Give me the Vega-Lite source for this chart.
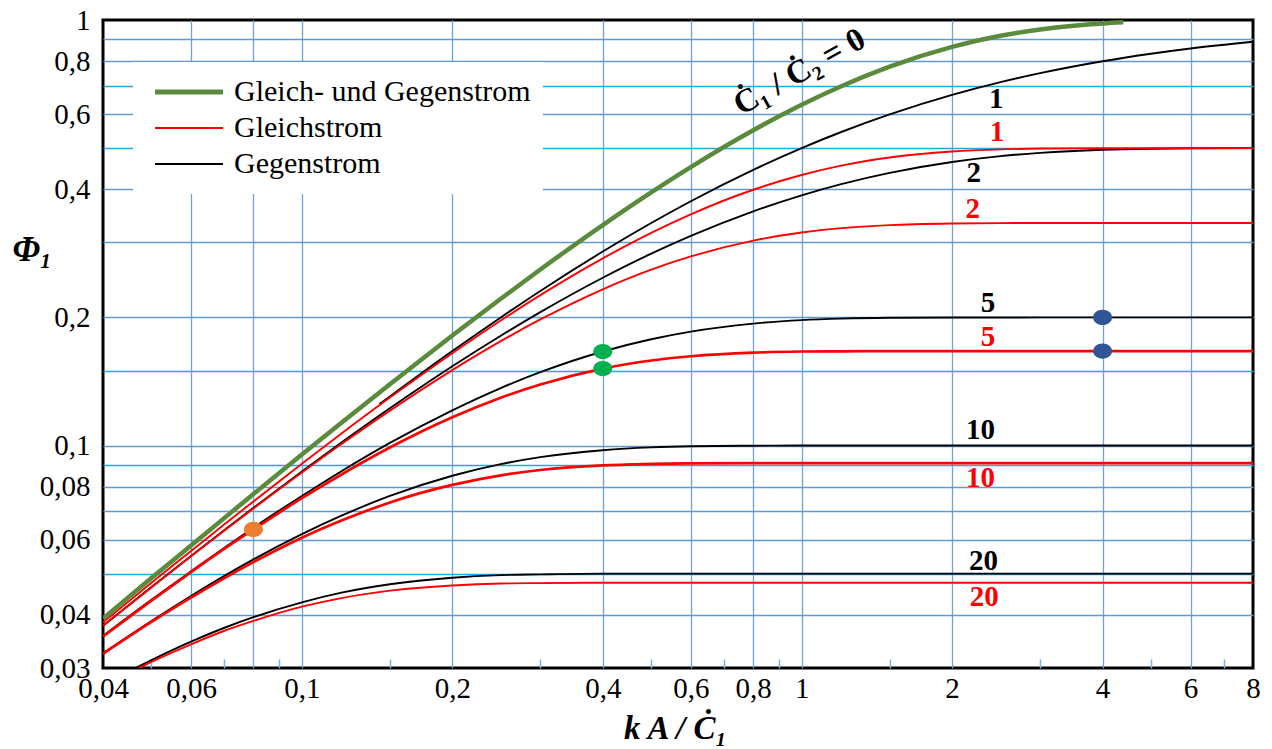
{
  "$schema": "https://vega.github.io/schema/vega-lite/v6.json",
  "width": 1150,
  "height": 648,
  "autosize": {"type": "none"},
  "padding": {"left": 103, "top": 20, "right": 19, "bottom": 81},
  "background": "white",
  "config": {
    "view": {"stroke": "black", "strokeWidth": 3},
    "font": "Liberation Serif",
    "axis": {
      "domain": false,
      "labelFont": "Liberation Serif",
      "labelColor": "black",
      "labelFontSize": 29,
      "titleFont": "Liberation Serif",
      "titleColor": "black",
      "titleFontWeight": "bold",
      "titleFontStyle": "italic"
    }
  },
  "datasets": {
    "kurven": [
      {"kA":0.143,"Phi":0.1251,"Art":"Gegenstrom","R":1},{"kA":0.15,"Phi":0.1304,"Art":"Gegenstrom","R":1},{"kA":0.2,"Phi":0.1667,"Art":"Gegenstrom","R":1},{"kA":0.25,"Phi":0.2,"Art":"Gegenstrom","R":1},{"kA":0.3,"Phi":0.2308,"Art":"Gegenstrom","R":1},{"kA":0.4,"Phi":0.2857,"Art":"Gegenstrom","R":1},{"kA":0.5,"Phi":0.3333,"Art":"Gegenstrom","R":1},{"kA":0.6,"Phi":0.375,"Art":"Gegenstrom","R":1},{"kA":0.8,"Phi":0.4444,"Art":"Gegenstrom","R":1},{"kA":1,"Phi":0.5,"Art":"Gegenstrom","R":1},{"kA":1.2,"Phi":0.5455,"Art":"Gegenstrom","R":1},{"kA":1.5,"Phi":0.6,"Art":"Gegenstrom","R":1},{"kA":2,"Phi":0.6667,"Art":"Gegenstrom","R":1},{"kA":2.5,"Phi":0.7143,"Art":"Gegenstrom","R":1},{"kA":3,"Phi":0.75,"Art":"Gegenstrom","R":1},{"kA":4,"Phi":0.8,"Art":"Gegenstrom","R":1},{"kA":5,"Phi":0.8333,"Art":"Gegenstrom","R":1},{"kA":6,"Phi":0.8571,"Art":"Gegenstrom","R":1},{"kA":8,"Phi":0.8889,"Art":"Gegenstrom","R":1},

      {"kA":0.04,"Phi":0.0377,"Art":"Gegenstrom","R":2},{"kA":0.05,"Phi":0.0465,"Art":"Gegenstrom","R":2},{"kA":0.06,"Phi":0.055,"Art":"Gegenstrom","R":2},{"kA":0.07,"Phi":0.0633,"Art":"Gegenstrom","R":2},{"kA":0.08,"Phi":0.0714,"Art":"Gegenstrom","R":2},{"kA":0.1,"Phi":0.0869,"Art":"Gegenstrom","R":2},{"kA":0.12,"Phi":0.1016,"Art":"Gegenstrom","R":2},{"kA":0.15,"Phi":0.1223,"Art":"Gegenstrom","R":2},{"kA":0.2,"Phi":0.1535,"Art":"Gegenstrom","R":2},{"kA":0.25,"Phi":0.1811,"Art":"Gegenstrom","R":2},{"kA":0.3,"Phi":0.2058,"Art":"Gegenstrom","R":2},{"kA":0.4,"Phi":0.2479,"Art":"Gegenstrom","R":2},{"kA":0.5,"Phi":0.2824,"Art":"Gegenstrom","R":2},{"kA":0.6,"Phi":0.3109,"Art":"Gegenstrom","R":2},{"kA":0.8,"Phi":0.3551,"Art":"Gegenstrom","R":2},{"kA":1,"Phi":0.3873,"Art":"Gegenstrom","R":2},{"kA":1.2,"Phi":0.4114,"Art":"Gegenstrom","R":2},{"kA":1.5,"Phi":0.4372,"Art":"Gegenstrom","R":2},{"kA":2,"Phi":0.4637,"Art":"Gegenstrom","R":2},{"kA":2.5,"Phi":0.4786,"Art":"Gegenstrom","R":2},{"kA":3,"Phi":0.4872,"Art":"Gegenstrom","R":2},{"kA":4,"Phi":0.4954,"Art":"Gegenstrom","R":2},{"kA":5,"Phi":0.4983,"Art":"Gegenstrom","R":2},{"kA":6,"Phi":0.4994,"Art":"Gegenstrom","R":2},{"kA":8,"Phi":0.4999,"Art":"Gegenstrom","R":2},

      {"kA":0.04,"Phi":0.0357,"Art":"Gegenstrom","R":5},{"kA":0.05,"Phi":0.0434,"Art":"Gegenstrom","R":5},{"kA":0.06,"Phi":0.0506,"Art":"Gegenstrom","R":5},{"kA":0.07,"Phi":0.0575,"Art":"Gegenstrom","R":5},{"kA":0.08,"Phi":0.0641,"Art":"Gegenstrom","R":5},{"kA":0.1,"Phi":0.0761,"Art":"Gegenstrom","R":5},{"kA":0.12,"Phi":0.087,"Art":"Gegenstrom","R":5},{"kA":0.15,"Phi":0.1014,"Art":"Gegenstrom","R":5},{"kA":0.2,"Phi":0.121,"Art":"Gegenstrom","R":5},{"kA":0.25,"Phi":0.1365,"Art":"Gegenstrom","R":5},{"kA":0.3,"Phi":0.1487,"Art":"Gegenstrom","R":5},{"kA":0.4,"Phi":0.1663,"Art":"Gegenstrom","R":5},{"kA":0.5,"Phi":0.1777,"Art":"Gegenstrom","R":5},{"kA":0.6,"Phi":0.1852,"Art":"Gegenstrom","R":5},{"kA":0.8,"Phi":0.1934,"Art":"Gegenstrom","R":5},{"kA":1,"Phi":0.1971,"Art":"Gegenstrom","R":5},{"kA":1.2,"Phi":0.1987,"Art":"Gegenstrom","R":5},{"kA":1.5,"Phi":0.1996,"Art":"Gegenstrom","R":5},{"kA":2,"Phi":0.1999,"Art":"Gegenstrom","R":5},{"kA":3,"Phi":0.2,"Art":"Gegenstrom","R":5},{"kA":8,"Phi":0.2,"Art":"Gegenstrom","R":5},

      {"kA":0.04,"Phi":0.0325,"Art":"Gegenstrom","R":10},{"kA":0.05,"Phi":0.0387,"Art":"Gegenstrom","R":10},{"kA":0.06,"Phi":0.0443,"Art":"Gegenstrom","R":10},{"kA":0.07,"Phi":0.0494,"Art":"Gegenstrom","R":10},{"kA":0.08,"Phi":0.054,"Art":"Gegenstrom","R":10},{"kA":0.1,"Phi":0.0619,"Art":"Gegenstrom","R":10},{"kA":0.12,"Phi":0.0684,"Art":"Gegenstrom","R":10},{"kA":0.15,"Phi":0.0761,"Art":"Gegenstrom","R":10},{"kA":0.2,"Phi":0.0849,"Art":"Gegenstrom","R":10},{"kA":0.25,"Phi":0.0904,"Art":"Gegenstrom","R":10},{"kA":0.3,"Phi":0.0939,"Art":"Gegenstrom","R":10},{"kA":0.4,"Phi":0.0975,"Art":"Gegenstrom","R":10},{"kA":0.5,"Phi":0.099,"Art":"Gegenstrom","R":10},{"kA":0.6,"Phi":0.0996,"Art":"Gegenstrom","R":10},{"kA":0.8,"Phi":0.0999,"Art":"Gegenstrom","R":10},{"kA":1,"Phi":0.1,"Art":"Gegenstrom","R":10},{"kA":8,"Phi":0.1,"Art":"Gegenstrom","R":10},

      {"kA":0.045,"Phi":0.0294,"Art":"Gegenstrom","R":20},{"kA":0.05,"Phi":0.0313,"Art":"Gegenstrom","R":20},{"kA":0.06,"Phi":0.0346,"Art":"Gegenstrom","R":20},{"kA":0.07,"Phi":0.0373,"Art":"Gegenstrom","R":20},{"kA":0.08,"Phi":0.0395,"Art":"Gegenstrom","R":20},{"kA":0.1,"Phi":0.0428,"Art":"Gegenstrom","R":20},{"kA":0.12,"Phi":0.0451,"Art":"Gegenstrom","R":20},{"kA":0.15,"Phi":0.0472,"Art":"Gegenstrom","R":20},{"kA":0.2,"Phi":0.0489,"Art":"Gegenstrom","R":20},{"kA":0.25,"Phi":0.0496,"Art":"Gegenstrom","R":20},{"kA":0.3,"Phi":0.0498,"Art":"Gegenstrom","R":20},{"kA":0.4,"Phi":0.05,"Art":"Gegenstrom","R":20},{"kA":8,"Phi":0.05,"Art":"Gegenstrom","R":20},

      {"kA":0.04,"Phi":0.0384,"Art":"Gleichstrom","R":1},{"kA":0.05,"Phi":0.0476,"Art":"Gleichstrom","R":1},{"kA":0.06,"Phi":0.0565,"Art":"Gleichstrom","R":1},{"kA":0.07,"Phi":0.0653,"Art":"Gleichstrom","R":1},{"kA":0.08,"Phi":0.0739,"Art":"Gleichstrom","R":1},{"kA":0.1,"Phi":0.0906,"Art":"Gleichstrom","R":1},{"kA":0.12,"Phi":0.1067,"Art":"Gleichstrom","R":1},{"kA":0.15,"Phi":0.1296,"Art":"Gleichstrom","R":1},{"kA":0.2,"Phi":0.1648,"Art":"Gleichstrom","R":1},{"kA":0.25,"Phi":0.1967,"Art":"Gleichstrom","R":1},{"kA":0.3,"Phi":0.2256,"Art":"Gleichstrom","R":1},{"kA":0.4,"Phi":0.2753,"Art":"Gleichstrom","R":1},{"kA":0.5,"Phi":0.3161,"Art":"Gleichstrom","R":1},{"kA":0.6,"Phi":0.3494,"Art":"Gleichstrom","R":1},{"kA":0.8,"Phi":0.3991,"Art":"Gleichstrom","R":1},{"kA":1,"Phi":0.4323,"Art":"Gleichstrom","R":1},{"kA":1.2,"Phi":0.4546,"Art":"Gleichstrom","R":1},{"kA":1.5,"Phi":0.4751,"Art":"Gleichstrom","R":1},{"kA":2,"Phi":0.4908,"Art":"Gleichstrom","R":1},{"kA":2.5,"Phi":0.4966,"Art":"Gleichstrom","R":1},{"kA":3,"Phi":0.4988,"Art":"Gleichstrom","R":1},{"kA":4,"Phi":0.4998,"Art":"Gleichstrom","R":1},{"kA":5,"Phi":0.5,"Art":"Gleichstrom","R":1},{"kA":8,"Phi":0.5,"Art":"Gleichstrom","R":1},

      {"kA":0.04,"Phi":0.0377,"Art":"Gleichstrom","R":2},{"kA":0.05,"Phi":0.0464,"Art":"Gleichstrom","R":2},{"kA":0.06,"Phi":0.0549,"Art":"Gleichstrom","R":2},{"kA":0.07,"Phi":0.0631,"Art":"Gleichstrom","R":2},{"kA":0.08,"Phi":0.0711,"Art":"Gleichstrom","R":2},{"kA":0.1,"Phi":0.0864,"Art":"Gleichstrom","R":2},{"kA":0.12,"Phi":0.1008,"Art":"Gleichstrom","R":2},{"kA":0.15,"Phi":0.1208,"Art":"Gleichstrom","R":2},{"kA":0.2,"Phi":0.1504,"Art":"Gleichstrom","R":2},{"kA":0.25,"Phi":0.1759,"Art":"Gleichstrom","R":2},{"kA":0.3,"Phi":0.1978,"Art":"Gleichstrom","R":2},{"kA":0.4,"Phi":0.2329,"Art":"Gleichstrom","R":2},{"kA":0.5,"Phi":0.259,"Art":"Gleichstrom","R":2},{"kA":0.6,"Phi":0.2782,"Art":"Gleichstrom","R":2},{"kA":0.8,"Phi":0.3031,"Art":"Gleichstrom","R":2},{"kA":1,"Phi":0.3167,"Art":"Gleichstrom","R":2},{"kA":1.2,"Phi":0.3242,"Art":"Gleichstrom","R":2},{"kA":1.5,"Phi":0.3296,"Art":"Gleichstrom","R":2},{"kA":2,"Phi":0.3325,"Art":"Gleichstrom","R":2},{"kA":2.5,"Phi":0.3332,"Art":"Gleichstrom","R":2},{"kA":3,"Phi":0.3333,"Art":"Gleichstrom","R":2},{"kA":8,"Phi":0.3333,"Art":"Gleichstrom","R":2},

      {"kA":0.04,"Phi":0.0356,"Art":"Gleichstrom","R":5},{"kA":0.05,"Phi":0.0432,"Art":"Gleichstrom","R":5},{"kA":0.06,"Phi":0.0504,"Art":"Gleichstrom","R":5},{"kA":0.07,"Phi":0.0572,"Art":"Gleichstrom","R":5},{"kA":0.08,"Phi":0.0635,"Art":"Gleichstrom","R":5},{"kA":0.1,"Phi":0.0752,"Art":"Gleichstrom","R":5},{"kA":0.12,"Phi":0.0855,"Art":"Gleichstrom","R":5},{"kA":0.15,"Phi":0.0989,"Art":"Gleichstrom","R":5},{"kA":0.2,"Phi":0.1165,"Art":"Gleichstrom","R":5},{"kA":0.25,"Phi":0.1295,"Art":"Gleichstrom","R":5},{"kA":0.3,"Phi":0.1391,"Art":"Gleichstrom","R":5},{"kA":0.4,"Phi":0.1516,"Art":"Gleichstrom","R":5},{"kA":0.5,"Phi":0.1584,"Art":"Gleichstrom","R":5},{"kA":0.6,"Phi":0.1621,"Art":"Gleichstrom","R":5},{"kA":0.8,"Phi":0.1653,"Art":"Gleichstrom","R":5},{"kA":1,"Phi":0.1663,"Art":"Gleichstrom","R":5},{"kA":1.2,"Phi":0.1665,"Art":"Gleichstrom","R":5},{"kA":1.5,"Phi":0.1667,"Art":"Gleichstrom","R":5},{"kA":8,"Phi":0.1667,"Art":"Gleichstrom","R":5},

      {"kA":0.04,"Phi":0.0324,"Art":"Gleichstrom","R":10},{"kA":0.05,"Phi":0.0385,"Art":"Gleichstrom","R":10},{"kA":0.06,"Phi":0.0439,"Art":"Gleichstrom","R":10},{"kA":0.07,"Phi":0.0488,"Art":"Gleichstrom","R":10},{"kA":0.08,"Phi":0.0532,"Art":"Gleichstrom","R":10},{"kA":0.1,"Phi":0.0607,"Art":"Gleichstrom","R":10},{"kA":0.12,"Phi":0.0666,"Art":"Gleichstrom","R":10},{"kA":0.15,"Phi":0.0735,"Art":"Gleichstrom","R":10},{"kA":0.2,"Phi":0.0808,"Art":"Gleichstrom","R":10},{"kA":0.25,"Phi":0.0851,"Art":"Gleichstrom","R":10},{"kA":0.3,"Phi":0.0876,"Art":"Gleichstrom","R":10},{"kA":0.4,"Phi":0.0898,"Art":"Gleichstrom","R":10},{"kA":0.5,"Phi":0.0905,"Art":"Gleichstrom","R":10},{"kA":0.6,"Phi":0.0908,"Art":"Gleichstrom","R":10},{"kA":0.8,"Phi":0.0909,"Art":"Gleichstrom","R":10},{"kA":8,"Phi":0.0909,"Art":"Gleichstrom","R":10},

      {"kA":0.045,"Phi":0.0291,"Art":"Gleichstrom","R":20},{"kA":0.05,"Phi":0.031,"Art":"Gleichstrom","R":20},{"kA":0.06,"Phi":0.0341,"Art":"Gleichstrom","R":20},{"kA":0.07,"Phi":0.0367,"Art":"Gleichstrom","R":20},{"kA":0.08,"Phi":0.0387,"Art":"Gleichstrom","R":20},{"kA":0.1,"Phi":0.0418,"Art":"Gleichstrom","R":20},{"kA":0.12,"Phi":0.0438,"Art":"Gleichstrom","R":20},{"kA":0.15,"Phi":0.0456,"Art":"Gleichstrom","R":20},{"kA":0.2,"Phi":0.0469,"Art":"Gleichstrom","R":20},{"kA":0.25,"Phi":0.0474,"Art":"Gleichstrom","R":20},{"kA":0.3,"Phi":0.0475,"Art":"Gleichstrom","R":20},{"kA":0.4,"Phi":0.0476,"Art":"Gleichstrom","R":20},{"kA":8,"Phi":0.0476,"Art":"Gleichstrom","R":20},

      {"kA":0.04,"Phi":0.0392,"Art":"Gleich- und Gegenstrom","R":0},{"kA":0.05,"Phi":0.0488,"Art":"Gleich- und Gegenstrom","R":0},{"kA":0.06,"Phi":0.0582,"Art":"Gleich- und Gegenstrom","R":0},{"kA":0.07,"Phi":0.0676,"Art":"Gleich- und Gegenstrom","R":0},{"kA":0.08,"Phi":0.0769,"Art":"Gleich- und Gegenstrom","R":0},{"kA":0.1,"Phi":0.0952,"Art":"Gleich- und Gegenstrom","R":0},{"kA":0.12,"Phi":0.1131,"Art":"Gleich- und Gegenstrom","R":0},{"kA":0.15,"Phi":0.1393,"Art":"Gleich- und Gegenstrom","R":0},{"kA":0.2,"Phi":0.1813,"Art":"Gleich- und Gegenstrom","R":0},{"kA":0.25,"Phi":0.2212,"Art":"Gleich- und Gegenstrom","R":0},{"kA":0.3,"Phi":0.2592,"Art":"Gleich- und Gegenstrom","R":0},{"kA":0.4,"Phi":0.3297,"Art":"Gleich- und Gegenstrom","R":0},{"kA":0.5,"Phi":0.3935,"Art":"Gleich- und Gegenstrom","R":0},{"kA":0.6,"Phi":0.4512,"Art":"Gleich- und Gegenstrom","R":0},{"kA":0.8,"Phi":0.5507,"Art":"Gleich- und Gegenstrom","R":0},{"kA":1,"Phi":0.6321,"Art":"Gleich- und Gegenstrom","R":0},{"kA":1.2,"Phi":0.6988,"Art":"Gleich- und Gegenstrom","R":0},{"kA":1.5,"Phi":0.7769,"Art":"Gleich- und Gegenstrom","R":0},{"kA":2,"Phi":0.8647,"Art":"Gleich- und Gegenstrom","R":0},{"kA":2.5,"Phi":0.9179,"Art":"Gleich- und Gegenstrom","R":0},{"kA":3,"Phi":0.9502,"Art":"Gleich- und Gegenstrom","R":0},{"kA":3.5,"Phi":0.9698,"Art":"Gleich- und Gegenstrom","R":0},{"kA":4,"Phi":0.9817,"Art":"Gleich- und Gegenstrom","R":0},{"kA":4.4,"Phi":0.9877,"Art":"Gleich- und Gegenstrom","R":0}
    ],
    "punkte": [
      {"kA":0.08,"Phi":0.0635,"Punkt":"A"},
      {"kA":0.4,"Phi":0.1663,"Punkt":"B"},
      {"kA":0.4,"Phi":0.1516,"Punkt":"B"},
      {"kA":4,"Phi":0.2,"Punkt":"C"},
      {"kA":4,"Phi":0.1667,"Punkt":"C"}
    ],
    "beschriftung": [
      {"kA":2.45,"Phi":0.652,"Text":"1","Art":"Gegenstrom"},
      {"kA":2.46,"Phi":0.545,"Text":"1","Art":"Gleichstrom"},
      {"kA":2.21,"Phi":0.437,"Text":"2","Art":"Gegenstrom"},
      {"kA":2.2,"Phi":0.36,"Text":"2","Art":"Gleichstrom"},
      {"kA":2.36,"Phi":0.2162,"Text":"5","Art":"Gegenstrom"},
      {"kA":2.36,"Phi":0.1799,"Text":"5","Art":"Gleichstrom"},
      {"kA":2.28,"Phi":0.1088,"Text":"10","Art":"Gegenstrom"},
      {"kA":2.28,"Phi":0.0839,"Text":"10","Art":"Gleichstrom"},
      {"kA":2.31,"Phi":0.0535,"Text":"20","Art":"Gegenstrom"},
      {"kA":2.32,"Phi":0.0441,"Text":"20","Art":"Gleichstrom"}
    ],
    "kurvenname": [
      {"kA":0.99,"Phi":0.755,"Text":"Ċ₁ / Ċ₂ = 0"}
    ]
  },
  "encoding": {
    "x": {
      "field": "kA",
      "type": "quantitative",
      "scale": {"type": "log", "domain": [0.04, 8], "nice": false},
      "axis": {
        "values": [0.04,0.05,0.06,0.07,0.08,0.09,0.1,0.15,0.2,0.3,0.4,0.5,0.6,0.7,0.8,0.9,1,1.5,2,3,4,5,6,7,8],
        "format": "~g",
        "labelExpr": "indexof([0.04,0.06,0.1,0.2,0.4,0.6,0.8,1,2,4,6,8], datum.value) >= 0 ? replace(datum.label, '.', ',') : ''",
        "labelOverlap": false,
        "labelFlush": false,
        "labelPadding": 15,
        "ticks": true,
        "tickSize": -9,
        "tickWidth": 1.5,
        "tickColor": "#7fb0e2",
        "tickOpacity": {"condition": {"test": "indexof([0.05,0.07,0.09,0.15,0.3,0.5,0.7,0.9,1.5,3,5,7], datum.value) >= 0", "value": 1}, "value": 0},
        "grid": true,
        "gridColor": "#6ea4dc",
        "gridWidth": 1.3,
        "gridOpacity": {"condition": {"test": "indexof([0.06,0.08,0.1,0.2,0.4,0.6,0.8,1,2,4,6], datum.value) >= 0", "value": 1}, "value": 0},
        "title": "k A / Ċ₁",
        "titleFontSize": 33,
        "titleX": 572,
        "titleY": 70,
        "titleAlign": "center",
        "titleBaseline": "alphabetic"
      }
    },
    "y": {
      "field": "Phi",
      "type": "quantitative",
      "scale": {"type": "log", "domain": [0.03, 1], "nice": false},
      "axis": {
        "values": [0.03,0.04,0.05,0.06,0.07,0.08,0.09,0.1,0.15,0.2,0.3,0.4,0.5,0.6,0.7,0.8,0.9,1],
        "format": "~g",
        "labelExpr": "indexof([0.03,0.04,0.06,0.08,0.1,0.2,0.4,0.6,0.8,1], datum.value) >= 0 ? replace(datum.label, '.', ',') : ''",
        "labelOverlap": false,
        "labelFlush": false,
        "ticks": false,
        "labelPadding": 13,
        "grid": true,
        "gridWidth": 1.3,
        "gridColor": {"condition": {"test": "indexof([0.05,0.09,0.15,0.5,0.7], datum.value) >= 0", "value": "#1eaae8"}, "value": "#5d9bd6"},
        "gridOpacity": {"condition": {"test": "datum.value === 0.03 || datum.value === 1", "value": 0}, "value": 1},
        "title": "Φ₁",
        "titleFontSize": 35,
        "titleAngle": 0,
        "titleX": -91,
        "titleY": 240,
        "titleAlign": "left",
        "titleBaseline": "alphabetic"
      }
    }
  },
  "layer": [
    {
      "data": {"name": "kurven"},
      "mark": {"type": "line", "interpolate": "monotone", "clip": true},
      "encoding": {
        "color": {
          "field": "Art",
          "type": "nominal",
          "scale": {"domain": ["Gleich- und Gegenstrom", "Gleichstrom", "Gegenstrom"], "range": ["#5a8b3c", "#ff0000", "#000000"]},
          "legend": {
            "orient": "none",
            "legendX": 30,
            "legendY": 42,
            "title": null,
            "symbolType": "stroke",
            "symbolSize": 4624,
            "symbolStrokeWidth": 2,
            "clipHeight": 36,
            "rowPadding": 0,
            "symbolOffset": 9,
            "labelOffset": 10,
            "labelFont": "Liberation Serif",
            "labelFontSize": 30,
            "labelColor": "black",
            "labelLimit": 420,
            "fillColor": "white",
            "padding": 12,
            "encode": {"symbols": {"update": {"strokeWidth": {"signal": "(datum.value === 'Gleich- und Gegenstrom' ? 5 : 2)"}}}}
          }
        },
        "detail": {"field": "R", "type": "nominal"},
        "strokeWidth": {
          "condition": [
            {"test": "datum.Art === 'Gleich- und Gegenstrom'", "value": 4.5},
            {"test": "datum.Art === 'Gleichstrom' && (datum.R === 5 || datum.R === 10)", "value": 2.7}
          ],
          "value": 1.9
        }
      }
    },
    {
      "data": {"name": "punkte"},
      "transform": [{"filter": "datum.Punkt === 'A'"}],
      "mark": {"type": "point", "shape": "M-1,0A1,0.8 0 1,0 1,0A1,0.8 0 1,0 -1,0Z", "filled": true, "size": 361, "opacity": 1, "color": "#ed7d31"}
    },
    {
      "data": {"name": "punkte"},
      "transform": [{"filter": "datum.Punkt === 'B'"}],
      "mark": {"type": "point", "shape": "M-1,0A1,0.8 0 1,0 1,0A1,0.8 0 1,0 -1,0Z", "filled": true, "size": 361, "opacity": 1, "color": "#00b050"}
    },
    {
      "data": {"name": "punkte"},
      "transform": [{"filter": "datum.Punkt === 'C'"}],
      "mark": {"type": "point", "shape": "M-1,0A1,0.8 0 1,0 1,0A1,0.8 0 1,0 -1,0Z", "filled": true, "size": 361, "opacity": 1, "color": "#2f5597"}
    },
    {
      "data": {"name": "beschriftung"},
      "transform": [{"filter": "datum.Art === 'Gegenstrom'"}],
      "mark": {"type": "text", "font": "Liberation Serif", "fontWeight": "bold", "fontSize": 29, "align": "center", "baseline": "middle", "color": "#000000"},
      "encoding": {"text": {"field": "Text"}}
    },
    {
      "data": {"name": "beschriftung"},
      "transform": [{"filter": "datum.Art === 'Gleichstrom'"}],
      "mark": {"type": "text", "font": "Liberation Serif", "fontWeight": "bold", "fontSize": 29, "align": "center", "baseline": "middle", "color": "#ff0000"},
      "encoding": {"text": {"field": "Text"}}
    },
    {
      "data": {"name": "kurvenname"},
      "mark": {"type": "text", "font": "Liberation Serif", "fontWeight": "bold", "fontSize": 33, "align": "center", "baseline": "middle", "angle": -29, "color": "#000000"},
      "encoding": {"text": {"field": "Text"}}
    }
  ]
}
